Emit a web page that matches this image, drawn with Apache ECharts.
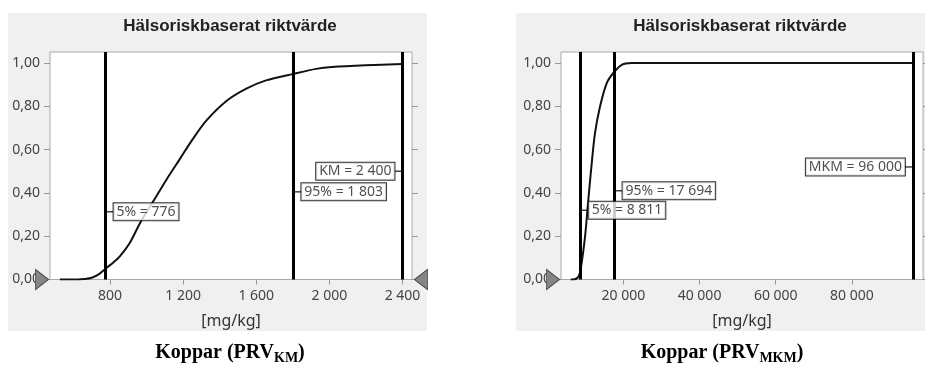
<!DOCTYPE html>
<html>
<head>
<meta charset="utf-8">
<script src="https://cdn.jsdelivr.net/npm/echarts@6/dist/echarts.min.js"></script>
<style>
  html, body { margin: 0; padding: 0; background: #fff; }
  #chart { width: 925px; height: 371px; }
</style>
</head>
<body>
<div id="chart"></div>
<script>
// ---------- data ----------
const panelTitle = 'Hälsoriskbaserat riktvärde';
const axisUnit = '[mg/kg]';
const captionMain = 'Koppar (PRV';
const captionSubs = ['KM', 'MKM'];

// cumulative curve, left panel (PRV KM)
const kmX = [526, 625, 660, 700, 740, 776, 820, 855, 909, 964, 1036, 1108, 1181, 1250, 1328, 1437, 1546, 1654, 1803, 1927, 2014, 2199, 2400];
const kmY = [0, 0, 0.002, 0.008, 0.025, 0.05, 0.08, 0.108, 0.17, 0.26, 0.36, 0.46, 0.555, 0.645, 0.735, 0.825, 0.882, 0.92, 0.95, 0.973, 0.982, 0.99, 0.995];
const kmMarkNames = ['5%', '95%', 'KM'];
const kmMarkValues = [776, 1803, 2400];
const kmXTicks = [800, 1200, 1600, 2000, 2400];

// cumulative curve, right panel (PRV MKM)
const mkmX = [6200, 6860, 8174, 8811, 9935, 10800, 11700, 12560, 13880, 15640, 17370, 19580, 22210, 28330, 96000];
const mkmY = [0, 0, 0.012, 0.05, 0.197, 0.367, 0.537, 0.676, 0.799, 0.907, 0.954, 0.992, 1.0, 1.0, 1.0];
const mkmMarkNames = ['5%', '95%', 'MKM'];
const mkmMarkValues = [8811, 17694, 96000];
const mkmXTicks = [20000, 40000, 60000, 80000];

const yTicks = [0, 0.2, 0.4, 0.6, 0.8, 1.0];

// ---------- layout ----------
const layout = {
  yMax: 1.051,
  km: { xMin: 472, xMax: 2452, labelY: [0.313, 0.405, 0.50], side: ['right', 'right', 'left'] },
  mkm: { xMin: 3635, xMax: 98650, labelY: [0.32, 0.41, 0.52], side: ['right', 'right', 'left'] }
};

const fmtThousands = v => String(v).replace(/\B(?=(\d{3})+(?!\d))/g, ' ');
const fmtY = v => v.toFixed(2).replace('.', ',');

const tickFont = 'Noto Sans';
const tickColor = '#444';

function xAxisFor(grid, cfg, ticks) {
  return {
    type: 'value', gridIndex: grid, min: cfg.xMin, max: cfg.xMax,
    name: axisUnit, nameLocation: 'middle', nameGap: 34,
    nameTextStyle: { fontFamily: tickFont, fontSize: 16, color: '#333' },
    axisLine: { show: false },
    axisTick: { show: true, length: 5, customValues: ticks, lineStyle: { color: '#999' } },
    axisLabel: { customValues: ticks, formatter: fmtThousands, margin: 10, fontFamily: tickFont, fontSize: 14, color: tickColor },
    splitLine: { show: false }
  };
}
function yAxisFor(grid, right) {
  return {
    type: 'value', gridIndex: grid, min: 0, max: layout.yMax,
    position: right ? 'right' : 'left',
    axisLine: { show: false },
    axisTick: { show: true, length: 6, customValues: yTicks, lineStyle: { color: '#999' } },
    axisLabel: { show: !right, customValues: yTicks, formatter: fmtY, margin: 10, fontFamily: tickFont, fontSize: 14, color: tickColor },
    splitLine: { show: false }
  };
}

function curveSeries(xi, yi, xs, ys, marks, cfg, showRightHandle) {
  const handles = [{ coord: [cfg.xMin, 0], symbol: 'triangle', symbolRotate: -90, symbolSize: [20, 13], symbolOffset: [-8, 0] }];
  if (showRightHandle) handles.push({ coord: [cfg.xMax, 0], symbol: 'triangle', symbolRotate: 90, symbolSize: [20, 13], symbolOffset: [9, 0] });
  return {
    type: 'line', xAxisIndex: xi, yAxisIndex: yi,
    data: xs.map((x, i) => [x, ys[i]]),
    showSymbol: false, smooth: 0.3,
    lineStyle: { color: '#111', width: 2 },
    silent: true, z: 3,
    markLine: {
      silent: true, symbol: 'none', label: { show: false },
      lineStyle: { color: '#000', width: 3, type: 'solid' },
      data: marks.map(v => ({ xAxis: v }))
    },
    markPoint: {
      silent: true, label: { show: false },
      itemStyle: { color: '#858585', borderColor: '#4a4a4a', borderWidth: 1 },
      data: handles
    }
  };
}

function labelSeries(xi, yi, names, values, cfg) {
  return {
    type: 'scatter', xAxisIndex: xi, yAxisIndex: yi, z: 5, silent: true,
    data: values.map((v, i) => {
      const right = cfg.side[i] === 'right';
      return {
        value: [v, cfg.labelY[i]],
        symbol: 'rect', symbolSize: [8, 1.5], symbolOffset: [right ? 4 : -4, 0],
        label: {
          show: true, position: right ? 'right' : 'left', distance: 0,
          formatter: names[i] + ' = ' + fmtThousands(v),
          backgroundColor: '#fff', borderColor: '#000', borderWidth: 1,
          padding: [1, 3, 1, 3], lineHeight: 15,
          fontFamily: tickFont, fontSize: 14, color: '#222'
        }
      };
    }),
    itemStyle: { color: '#111' }
  };
}

function caption(x, sub) {
  return {
    type: 'text', x: x, y: 353, z: 10,
    style: {
      text: '{a|' + captionMain + '}{b|' + sub + '}{a|)}',
      align: 'center', verticalAlign: 'middle',
      rich: {
        a: { fontFamily: 'Liberation Serif', fontWeight: 'bold', fontSize: 20, lineHeight: 25, fill: '#000', color: '#000' },
        b: { fontFamily: 'Liberation Serif', fontWeight: 'bold', fontSize: 14, lineHeight: 25, verticalAlign: 'bottom', fill: '#000', color: '#000' }
      }
    }
  };
}

const titleFont = 'bold 17px "Liberation Sans"';

const chart = echarts.init(document.getElementById('chart'), null, { renderer: 'canvas' });
chart.setOption({
  animation: false,
  backgroundColor: '#fff',
  graphic: [
    { type: 'rect', z: -10, shape: { x: 8, y: 13, width: 419, height: 318 }, style: { fill: '#f0f0f0' } },
    { type: 'rect', z: -10, shape: { x: 516, y: 13, width: 409, height: 318 }, style: { fill: '#f0f0f0' } },
    { type: 'text', x: 230, y: 26, z: 10, style: { text: panelTitle, align: 'center', verticalAlign: 'middle', font: titleFont, fill: '#222' } },
    { type: 'text', x: 740, y: 26, z: 10, style: { text: panelTitle, align: 'center', verticalAlign: 'middle', font: titleFont, fill: '#222' } },
    caption(230, captionSubs[0]),
    caption(722, captionSubs[1])
  ],
  grid: [
    { left: 50, top: 52, right: 513, bottom: 91.5, show: true, backgroundColor: '#fff', borderColor: '#aaa', borderWidth: 1 },
    { left: 561, top: 52, right: 2, bottom: 91.5, show: true, backgroundColor: '#fff', borderColor: '#aaa', borderWidth: 1 }
  ],
  xAxis: [xAxisFor(0, layout.km, kmXTicks), xAxisFor(1, layout.mkm, mkmXTicks)],
  yAxis: [yAxisFor(0, false), yAxisFor(0, true), yAxisFor(1, false), yAxisFor(1, true)],
  series: [
    curveSeries(0, 0, kmX, kmY, kmMarkValues, layout.km, true),
    labelSeries(0, 0, kmMarkNames, kmMarkValues, layout.km),
    curveSeries(1, 2, mkmX, mkmY, mkmMarkValues, layout.mkm, false),
    labelSeries(1, 2, mkmMarkNames, mkmMarkValues, layout.mkm)
  ]
});
</script>
</body>
</html>
